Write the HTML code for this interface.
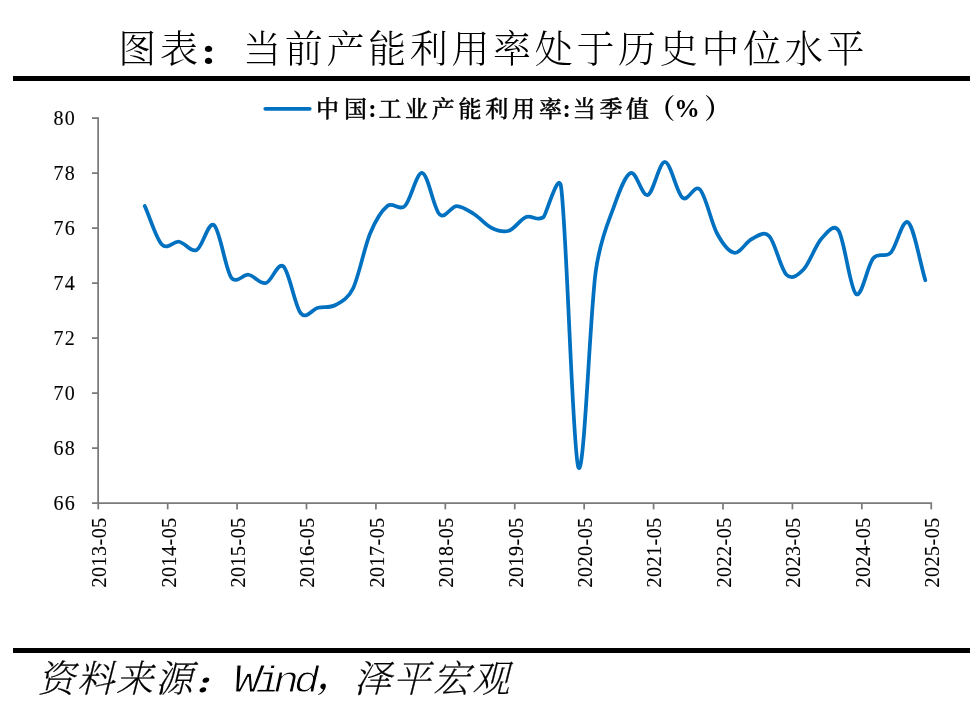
<!DOCTYPE html>
<html lang="zh-CN"><head><meta charset="utf-8"><title>图表：当前产能利用率处于历史中位水平</title>
<style>html,body{margin:0;padding:0;background:#fff;overflow:hidden}svg{display:block}</style></head>
<body>
<svg width="977" height="706" viewBox="0 0 977 706">
<rect width="977" height="706" fill="#fff"/>
<rect x="13" y="76" width="957" height="5" fill="#000"/>
<rect x="13" y="648" width="957" height="5" fill="#000"/>
<g stroke="#7a7a7a" stroke-width="1.75" fill="none">
<path d="M98.13,117.2 V504"/>
<path d="M92,503.1 H932.1"/>
<path d="M92,118.1 H98"/>
<path d="M92,173.1 H98"/>
<path d="M92,228.1 H98"/>
<path d="M92,283.1 H98"/>
<path d="M92,338.1 H98"/>
<path d="M92,393.1 H98"/>
<path d="M92,448.1 H98"/>
<path d="M98.25,503 V509.4"/>
<path d="M167.67,503 V509.4"/>
<path d="M237.08,503 V509.4"/>
<path d="M306.50,503 V509.4"/>
<path d="M375.92,503 V509.4"/>
<path d="M445.33,503 V509.4"/>
<path d="M514.75,503 V509.4"/>
<path d="M584.17,503 V509.4"/>
<path d="M653.58,503 V509.4"/>
<path d="M723.00,503 V509.4"/>
<path d="M792.42,503 V509.4"/>
<path d="M861.83,503 V509.4"/>
<path d="M931.25,503 V509.4"/>
</g>
<g font-family="'Liberation Serif', serif" font-size="20" fill="#000" stroke="#000" stroke-width="0.12">
<text x="53.4 64.7" y="124.7">80</text>
<text x="53.4 64.7" y="179.7">78</text>
<text x="53.4 64.7" y="234.7">76</text>
<text x="53.4 64.7" y="289.7">74</text>
<text x="53.4 64.7" y="344.7">72</text>
<text x="53.4 64.7" y="399.7">70</text>
<text x="53.4 64.7" y="454.7">68</text>
<text x="53.4 64.7" y="509.7">66</text>
<text transform="translate(106.10,517.3) rotate(-90)" text-anchor="end" letter-spacing="0.5">2013-05</text>
<text transform="translate(175.52,517.3) rotate(-90)" text-anchor="end" letter-spacing="0.5">2014-05</text>
<text transform="translate(244.93,517.3) rotate(-90)" text-anchor="end" letter-spacing="0.5">2015-05</text>
<text transform="translate(314.35,517.3) rotate(-90)" text-anchor="end" letter-spacing="0.5">2016-05</text>
<text transform="translate(383.77,517.3) rotate(-90)" text-anchor="end" letter-spacing="0.5">2017-05</text>
<text transform="translate(453.18,517.3) rotate(-90)" text-anchor="end" letter-spacing="0.5">2018-05</text>
<text transform="translate(522.60,517.3) rotate(-90)" text-anchor="end" letter-spacing="0.5">2019-05</text>
<text transform="translate(592.02,517.3) rotate(-90)" text-anchor="end" letter-spacing="0.5">2020-05</text>
<text transform="translate(661.43,517.3) rotate(-90)" text-anchor="end" letter-spacing="0.5">2021-05</text>
<text transform="translate(730.85,517.3) rotate(-90)" text-anchor="end" letter-spacing="0.5">2022-05</text>
<text transform="translate(800.27,517.3) rotate(-90)" text-anchor="end" letter-spacing="0.5">2023-05</text>
<text transform="translate(869.68,517.3) rotate(-90)" text-anchor="end" letter-spacing="0.5">2024-05</text>
<text transform="translate(939.10,517.3) rotate(-90)" text-anchor="end" letter-spacing="0.5">2025-05</text>
</g>
<path d="M144.76,206.00 C150.46,218.83 156.13,238.54 161.86,244.50 C167.59,250.46 173.36,240.83 179.15,241.75 C184.95,242.67 190.81,252.75 196.63,250.00 C202.46,247.25 208.35,220.67 214.11,225.25 C219.88,229.83 225.48,269.25 231.21,277.50 C236.21,284.69 243.46,273.95 248.51,274.75 C254.30,275.67 260.16,284.38 265.99,283.00 C271.81,281.62 277.67,261.46 283.47,266.50 C289.26,271.54 294.99,306.37 300.76,313.25 C306.52,320.12 312.25,309.13 318.05,307.75 C323.84,306.38 329.70,308.21 335.53,305.00 C340.82,302.09 347.78,299.32 353.01,288.50 C358.77,276.58 364.38,247.25 370.11,233.50 C375.84,219.75 381.61,210.58 387.40,206.00 C393.20,201.42 399.05,211.50 404.88,206.00 C410.71,200.50 416.60,171.62 422.36,173.00 C428.13,174.38 433.73,208.75 439.46,214.25 C445.19,219.75 450.96,206.00 456.75,206.00 C462.55,206.00 468.41,210.58 474.23,214.25 C480.06,217.92 485.95,225.25 491.71,228.00 C497.48,230.75 503.08,232.58 508.81,230.75 C514.55,228.92 520.31,219.29 526.11,217.00 C531.90,214.71 537.76,222.04 543.59,217.00 C546.00,214.91 558.66,169.45 561.07,186.75 C566.86,228.46 572.59,453.04 578.36,467.25 C584.12,481.46 589.85,315.08 595.65,272.00 C600.02,239.48 608.73,221.20 613.13,208.75 C618.96,192.25 624.85,175.29 630.61,173.00 C636.37,170.71 641.98,196.83 647.71,195.00 C653.44,193.17 659.21,161.54 665.00,162.00 C670.80,162.46 676.65,193.17 682.48,197.75 C688.31,202.33 694.20,183.54 699.96,189.50 C705.73,195.46 711.33,222.96 717.06,233.50 C722.79,244.04 728.56,251.83 734.35,252.75 C740.15,253.67 746.01,241.75 751.83,239.00 C757.66,236.25 763.55,230.29 769.31,236.25 C775.08,242.21 780.68,269.25 786.41,274.75 C792.15,280.25 797.91,275.21 803.71,269.25 C809.50,263.29 815.36,245.42 821.19,239.00 C826.38,233.28 833.50,222.58 838.67,230.75 C844.46,239.92 850.19,289.42 855.96,294.00 C861.72,298.58 867.45,265.12 873.25,258.25 C879.04,251.37 884.90,258.71 890.73,252.75 C896.56,246.79 902.45,217.92 908.21,222.50 C913.97,227.08 919.61,261.00 925.31,280.25" fill="none" stroke="#0070C0" stroke-width="3.75" stroke-linecap="round" stroke-linejoin="round"/>
<path d="M265.3,108.8 H309.7" stroke="#0070C0" stroke-width="3.75" stroke-linecap="round"/>
<g font-family="'Liberation Serif', 'Noto Serif CJK SC', serif" fill="#000" text-anchor="middle">
<text x="327.4 355.6 390.0 416.6 443.2 470.0 496.8 523.4 550.5 584.3 611.0 637.6" y="116.8" font-weight="500" font-size="23" stroke="#000" stroke-width="0.4" stroke-linejoin="round">中国工业产能利用率当季值</text>
<text x="372.3 566.7" y="116.6" font-weight="700" font-size="25">::</text>
<text x="687" y="117.3" font-weight="700" font-size="25.5">%</text>
<text x="661.5 718" y="118" font-weight="700" font-size="27.5">（）</text>
</g>
<text x="137.2 178.9 262.2 303.8 345.5 387.2 428.8 470.5 512.1 553.8 595.5 637.1 678.8 720.4 762.1 803.8 845.4" y="61.6" text-anchor="middle" font-family="'Liberation Serif', 'Noto Serif CJK SC', serif" font-weight="300" font-size="38" fill="#000">图表当前产能利用率处于历史中位水平</text>
<text transform="translate(216.2,63.6) scale(1,0.85)" text-anchor="middle" font-family="'Liberation Serif', 'Noto Serif CJK SC', serif" font-weight="900" font-size="36" fill="#000">：</text>
<g font-style="italic" fill="#000" text-anchor="middle">
<text x="56.3 95.6 134.6 174.0 372.4 411.8 451.2 490.7" y="692" font-family="'Liberation Serif', 'Noto Serif CJK SC', serif" font-weight="200" font-size="37.5" stroke="#000" stroke-width="0.25">资料来源泽平宏观</text>
<text transform="translate(208.65,693.3) scale(1,0.8)" font-family="'Liberation Serif', 'Noto Serif CJK SC', serif" font-weight="900" font-size="32">：</text>
<text x="334" y="688" font-family="'Liberation Serif', 'Noto Serif CJK SC', serif" font-weight="700" font-size="32">，</text>
<text transform="scale(1.14,1)" font-family="'Liberation Mono', monospace" font-size="37.5" stroke="#fff" stroke-width="0.9"><tspan x="217.02" y="691.6" font-size="41.5">W</tspan><tspan x="235.61 251.05 269.12" y="691.6">ind</tspan></text>
</g>
</svg>
</body></html>
